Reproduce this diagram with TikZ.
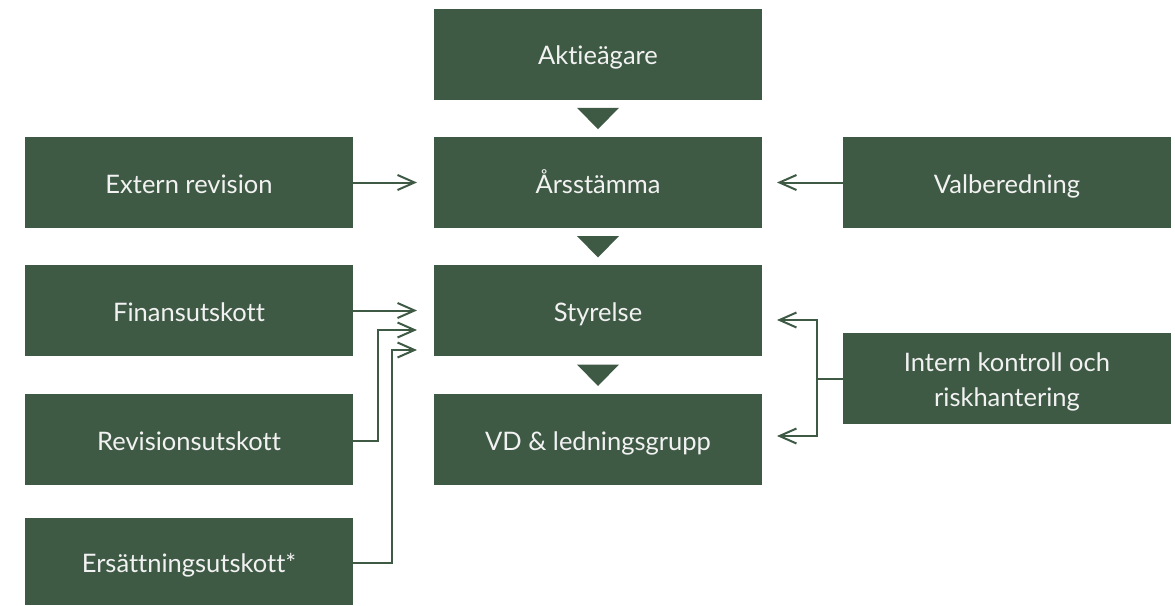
\documentclass[tikz,border=0pt]{standalone}
\usepackage{fontspec}
\setmainfont[Ligatures=NoCommon]{Lato}
\usetikzlibrary{arrows.meta,calc}
\definecolor{boxgreen}{HTML}{3E5A45}
\definecolor{boxtext}{HTML}{F2F2F2}
\tikzset{
  orgbox/.style={fill=boxgreen, text=boxtext, inner sep=0pt, minimum width=#1, minimum height=91pt,
    align=center, font=\fontsize{25.5}{35}\selectfont, text height=26pt, text depth=5pt},
  orgbox/.default=328pt,
  twoline/.style={text height=62pt, text depth=6pt},
  conn/.style={draw=boxgreen, line width=2pt, -{Straight Barb[length=17pt,width=15pt,line width=2pt]}},
  plainconn/.style={draw=boxgreen, line width=2pt},
  tri/.style={fill=boxgreen, draw=none}
}
\begin{document}
\begin{tikzpicture}[x=1pt,y=-1pt]
\useasboundingbox (0,0) rectangle (1175,605);
% middle column
\node[orgbox=328pt] (akt) at (598,54) {Aktieägare};
\node[orgbox=328pt] (ars) at (598,182.5) {Årsstämma};
\node[orgbox=328pt] (sty) at (598,310.5) {Styrelse};
\node[orgbox=328pt] (vd)  at (598,439.5) {VD \& ledningsgrupp};
% left column
\node[orgbox=328pt] (ext) at (189,182.5) {Extern revision};
\node[orgbox=328pt] (fin) at (189,310.5) {Finansutskott};
\node[orgbox=328pt] (rev) at (189,439.5) {Revisionsutskott};
\node[orgbox=328pt, minimum height=87pt] (ers) at (189,561.5) {Ersättningsutskott*};
% right column
\node[orgbox=328pt] (val) at (1007,182.5) {Valberedning};
\node[orgbox=328pt, twoline] (int) at (1007,378.5) {Intern kontroll och\\riskhantering};
% triangles
\foreach \a/\b in {akt/ars, ars/sty, sty/vd}{
  \path[tri] ($(\a.south)!0.5!(\b.north)$) ++(-21,-10.5) -- ++(42,0) -- ++(-21,21.5) -- cycle;
}
% connectors
\coordinate (lt) at (417,0);
\coordinate (rt) at (777,0);
\draw[conn] (ext.east) -- (lt |- ext.east);
\draw[conn] (val.west) -- (rt |- val.west);
\draw[conn] (fin.east) -- (lt |- fin.east);
\coordinate (revturn) at (378,441);
\coordinate (revend) at (417,330);
\draw[conn] (rev.east |- revturn) -- (revturn) -- (revturn |- revend) -- (revend);
\coordinate (ersturn) at (392,563);
\coordinate (ersend) at (417,350);
\draw[conn] (ers.east |- ersturn) -- (ersturn) -- (ersturn |- ersend) -- (ersend);
\coordinate (intbranch) at (817,379);
\coordinate (inttop) at (777,320);
\coordinate (intbot) at (777,436);
\draw[plainconn] (int.west |- intbranch) -- (intbranch);
\draw[conn] (intbranch) -- (intbranch |- inttop) -- (inttop);
\draw[conn] (intbranch) -- (intbranch |- intbot) -- (intbot);
\end{tikzpicture}
\end{document}
